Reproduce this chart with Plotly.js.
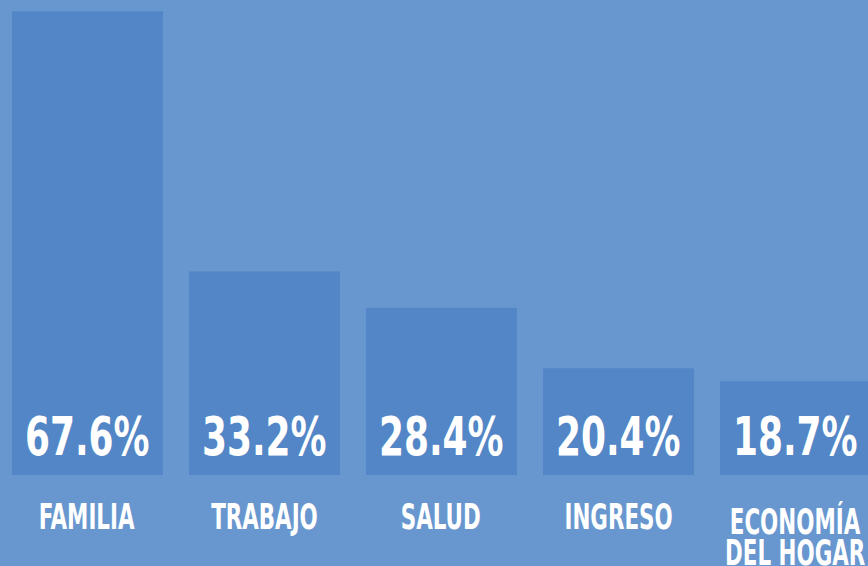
<!DOCTYPE html>
<html>
<head>
<meta charset="utf-8">
<script src="https://cdn.plot.ly/plotly-3.0.1.min.js"></script>
<style>
html,body{margin:0;padding:0;background:#6897CF;}
#chart{width:868px;height:566px;}
#chart .annotation-text{transform-box:fill-box;transform-origin:center;}
#chart .vlab .annotation-text{transform:scaleX(0.74);}
#chart .clab .annotation-text{transform:scaleX(0.68);}
</style>
</head>
<body>
<div id="chart"></div>
<script>
const categories = ["Familia", "Trabajo", "Salud", "Ingreso", "Economía del hogar"];
const values = [67.6, 33.2, 28.4, 20.4, 18.7];
const valueLabels = ["67.6%", "33.2%", "28.4%", "20.4%", "18.7%"];
const tickLabels = [["FAMILIA"], ["TRABAJO"], ["SALUD"], ["INGRESO"], ["ECONOMÍA", "DEL HOGAR"]];

const FONT = '"DejaVu Sans Condensed", "Liberation Sans Narrow", sans-serif';
const PLOT_H = 475;

const annotations = [];
const kinds = [];
categories.forEach((c, i) => {
  annotations.push({
    x: c, xref: 'x', y: (PLOT_H - 436) / PLOT_H, yref: 'paper',
    text: '<b>' + valueLabels[i] + '</b>', showarrow: false,
    xanchor: 'center', yanchor: 'middle',
    font: {family: FONT, size: 54, color: '#ffffff'}
  });
  kinds.push('vlab');
  const lines = tickLabels[i];
  const base = lines.length > 1 ? 521 : 517;
  lines.forEach((line, j) => {
    annotations.push({
      x: c, xref: 'x', y: (PLOT_H - (base + j * 32)) / PLOT_H, yref: 'paper',
      text: '<b>' + line + '</b>', showarrow: false,
      xanchor: 'center', yanchor: 'middle',
      font: {family: FONT, size: 35, color: '#ffffff'}
    });
    kinds.push('clab');
  });
});

const trace = {
  type: 'bar',
  x: categories,
  y: values,
  marker: {color: '#5286C6', line: {width: 0}},
  hoverinfo: 'none'
};

const layout = {
  width: 868, height: 566,
  margin: {l: 0, r: 0, t: 0, b: 91, pad: 0},
  paper_bgcolor: '#6897CF',
  plot_bgcolor: '#6897CF',
  bargap: 0.147,
  showlegend: false,
  xaxis: {range: [-0.494, 4.41], showticklabels: false, showgrid: false, zeroline: false, showline: false, ticks: ''},
  yaxis: {range: [6.3, 69.1], visible: false, showgrid: false, zeroline: false},
  annotations: annotations,
  font: {family: FONT}
};

function tagAnnotations() {
  const gs = document.querySelectorAll('#chart .annotation');
  gs.forEach((g, idx) => {
    const k = kinds[Number(g.getAttribute('data-index'))] || kinds[idx];
    g.classList.add(k);
  });
}

Plotly.newPlot('chart', [trace], layout, {staticPlot: true, displayModeBar: false}).then(tagAnnotations);
</script>
</body>
</html>
